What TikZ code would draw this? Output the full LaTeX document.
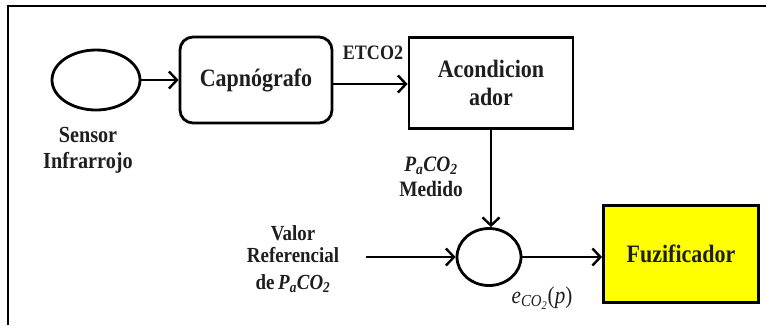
\documentclass[tikz,border=0pt]{standalone}
\usepackage{fontspec}
\setmainfont{Liberation Serif}[FakeStretch=0.88]
\usetikzlibrary{arrows.meta,shapes.geometric,calc}
\definecolor{txt}{HTML}{1E1E1E}
\definecolor{fuzfill}{HTML}{FFFF00}
\newcommand{\bfit}[1]{{\bfseries\itshape #1}}
\newcommand{\pacotwo}{\bfit{P}\textsubscript{\bfit{a}}\bfit{CO}\textsubscript{\bfit{2}}}
\begin{document}
\begin{tikzpicture}[x=1pt,y=-1pt,
  line width=2.6pt,
  arr/.style={-{Straight Barb[length=8pt,width=17pt,line width=2.4pt]}},
  box/.style={draw, line width=2.8pt, inner sep=0pt, text=txt, align=center,
    font=\fontsize{25}{28}\selectfont\bfseries},
  lbl/.style={text=txt, align=center, inner sep=0pt,
    font=\fontsize{23}{26}\selectfont\bfseries},
]
\useasboundingbox (0,0) rectangle (766,325);

% outer frame (top and left edges)
\draw[line width=2.2pt] (8,325) -- (8,6) -- (766,6);

% blocks
\node[box, ellipse, minimum width=88pt, minimum height=60pt] (sensor) at (96,80) {};
\node[box, rounded corners=13pt, minimum width=152pt, minimum height=86pt] (cap) at (256,80) {Capnógrafo};
\node[box, minimum width=164pt, minimum height=91pt] (acond) at (491,83) {Acondicion\\ador};
\node[box, ellipse, minimum width=64pt, minimum height=57pt] (sum) at (489,257) {};
\node[box, fill=fuzfill, minimum width=155pt, minimum height=97pt] (fuz) at (681,254) {Fuzificador};
\coordinate (refin) at (366,257);

% labels
\node[lbl] (lsensor) at (88,150) {Sensor\\Infrarrojo};
\node[lbl, font=\fontsize{20.5}{24}\selectfont\bfseries] (letco) at (373,53) {ETCO2};
\node[lbl, font=\fontsize{22}{25}\selectfont\bfseries] (lmed) at (431,177) {\pacotwo\\Medido};
\node[lbl, font=\fontsize{21.5}{22}\selectfont\bfseries] (lref) at (293,259) {Valor\\Referencial\\[5pt]de\,\pacotwo};
\node[lbl, font=\fontsize{24}{26}\selectfont] (lerr) at (542,298) {\textit{e}\textsubscript{\textit{CO}\textsubscript{\textit{2}}}(\textit{p})};

% connectors
\draw[arr] (sensor.east) -- (sensor.east -| cap.west);
\draw[arr] ($(cap.east)+(0,4)$) -- ($(cap.east -| acond.west)+(0,4)$);
\draw[arr] (acond.south) -- (acond.south |- sum.north);
\draw[arr] (refin) -- (sum.west);
\draw[arr] (sum.east) -- (sum.east -| fuz.west);
\end{tikzpicture}
\end{document}
